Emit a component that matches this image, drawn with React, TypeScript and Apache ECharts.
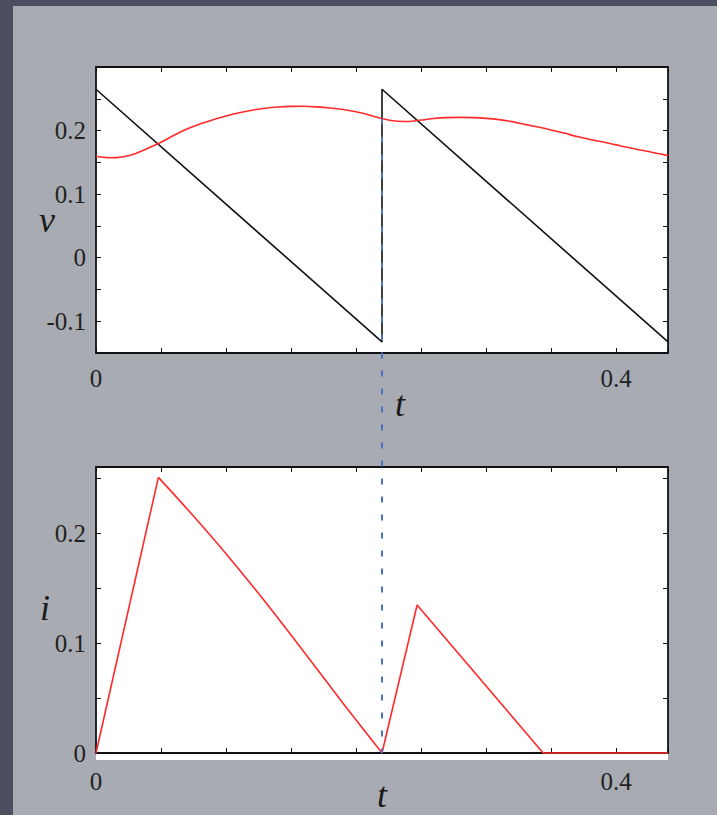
import React, { useEffect, useRef } from 'react';
import * as echarts from 'echarts';

// Top plot: v(t)
const vTime = [0, 0.01, 0.02, 0.03, 0.04, 0.05, 0.06, 0.07, 0.08, 0.09, 0.1, 0.11, 0.12, 0.13, 0.14, 0.15, 0.16, 0.17, 0.18, 0.19, 0.2, 0.21, 0.22, 0.23, 0.24, 0.25, 0.26, 0.27, 0.28, 0.29, 0.3, 0.31, 0.32, 0.33, 0.34, 0.35, 0.36, 0.37, 0.38, 0.39, 0.4, 0.41, 0.42, 0.43, 0.44];
const vRed = [0.1595, 0.1572, 0.1585, 0.1635, 0.172, 0.1815, 0.1925, 0.2025, 0.2105, 0.217, 0.223, 0.228, 0.232, 0.235, 0.237, 0.238, 0.2382, 0.2372, 0.2355, 0.233, 0.2295, 0.2245, 0.219, 0.215, 0.2143, 0.2165, 0.219, 0.2203, 0.2207, 0.2203, 0.2192, 0.2172, 0.214, 0.2097, 0.2055, 0.201, 0.196, 0.1905, 0.186, 0.182, 0.1775, 0.173, 0.169, 0.1648, 0.1606];
const sawTime = [0, 0.22, 0.22, 0.44];
const sawVolt = [0.265, -0.1325, 0.265, -0.1325];

// Bottom plot: i(t) — rise, gently curved decay, second pulse
const iRiseTime = [0, 0.048];
const iRise = [0, 0.2506];
const iDecayTime = [0.048, 0.07, 0.1, 0.13, 0.16, 0.19, 0.22];
const iDecay = [0.2506, 0.222, 0.1812, 0.1377, 0.0918, 0.0453, 0];
const iPulseTime = [0.22, 0.247, 0.344, 0.44];
const iPulse = [0, 0.1345, 0, 0];

// Tick labels
const xTickLabels = ['0', '0.4'];
const vTickLabels = ['-0.1', '0', '0.1', '0.2'];
const iTickLabels = ['0', '0.1', '0.2'];

// Dashed marker
const jumpTime = 0.22;
const jumpVolt = 0.219;

const SERIF = '"Liberation Serif", "Times New Roman", serif';
const RED = '#ff2a2a';

export default function App() {
  const ref = useRef<HTMLDivElement>(null);

  useEffect(() => {
    const chart = echarts.init(ref.current!, null, { renderer: 'svg' });

    const fmt = (list: string[]) => (val: number) => {
      let s = String(Math.round(val * 1000) / 1000);
      if (s === '-0') s = '0';
      return list.includes(s) ? s : '';
    };

    const axisLine = { show: true, onZero: false, lineStyle: { color: '#111', width: 1.8 } };
    const axisTick = { show: true, inside: true, length: 5, lineStyle: { color: '#111', width: 1 } };

    const xAx = (grid: number, pos: string, show: boolean, margin: number) => ({
      type: 'value', gridIndex: grid, position: pos, min: 0, max: 0.44, interval: 0.05,
      axisLine, axisTick, splitLine: { show: false },
      axisLabel: { show, margin, fontFamily: SERIF, fontSize: 25, color: '#222', formatter: fmt(xTickLabels) },
    });
    const yAx = (grid: number, pos: string, show: boolean, min: number, max: number, labels: string[]) => ({
      type: 'value', gridIndex: grid, position: pos, min, max, interval: 0.05,
      axisLine, axisTick, splitLine: { show: false },
      axisLabel: { show, margin: 10, fontFamily: SERIF, fontSize: 25, color: '#222', formatter: fmt(labels) },
    });

    const line = (xi: number, yi: number, xs: number[], ys: number[], color: string, smooth: number | boolean = false) => ({
      type: 'line', xAxisIndex: xi, yAxisIndex: yi, showSymbol: false, smooth, clip: false,
      data: xs.map((t, k) => [t, ys[k]]),
      lineStyle: { color, width: 1.6 },
    });

    chart.setOption({
      animation: false,
      backgroundColor: '#4b4f60',
      grid: [
        { left: 96, top: 67, width: 572, height: 286, show: true, backgroundColor: '#ffffff', borderWidth: 0 },
        { left: 96, top: 467, width: 572, height: 286, show: true, backgroundColor: '#ffffff', borderWidth: 0 },
      ],
      xAxis: [
        xAx(0, 'bottom', true, 13),
        xAx(0, 'top', false, 13),
        xAx(1, 'bottom', true, 16),
        xAx(1, 'top', false, 13),
      ],
      yAxis: [
        yAx(0, 'left', true, -0.15, 0.3, vTickLabels),
        yAx(0, 'right', false, -0.15, 0.3, vTickLabels),
        yAx(1, 'left', true, 0, 0.26, iTickLabels),
        yAx(1, 'right', false, 0, 0.26, iTickLabels),
      ],
      series: [
        line(0, 0, sawTime, sawVolt, '#111'),
        line(0, 0, vTime, vRed, RED, 0.3),
        line(2, 2, iRiseTime, iRise, RED),
        line(2, 2, iDecayTime, iDecay, RED, 0.3),
        line(2, 2, iPulseTime, iPulse, RED),
      ],
    });

    const x = chart.convertToPixel({ xAxisIndex: 0 }, jumpTime) as number;
    const y1 = chart.convertToPixel({ yAxisIndex: 0 }, jumpVolt) as number;
    const y2 = chart.convertToPixel({ yAxisIndex: 2 }, 0) as number;
    const gl = chart.convertToPixel({ xAxisIndex: 2 }, 0) as number;
    const gr = chart.convertToPixel({ xAxisIndex: 2 }, 0.44) as number;

    const title = (text: string, tx: number, ty: number) => ({
      type: 'text', x: tx, y: ty, z: 10,
      style: {
        text, fill: '#1a1a1a', fontFamily: SERIF, fontStyle: 'italic', fontSize: 36,
        align: 'center', verticalAlign: 'middle', textAlign: 'center', textVerticalAlign: 'middle',
      },
    });

    chart.setOption({
      graphic: [
        { type: 'rect', z: -100, shape: { x: 13, y: 6, width: 704, height: 809 }, style: { fill: '#a8abb2' } },
        { type: 'rect', z: -50, shape: { x: gl, y: y2, width: gr - gl, height: 7 }, style: { fill: '#ffffff' } },
        {
          type: 'line', z: 100,
          shape: { x1: x, y1, x2: x, y2 },
          style: { stroke: '#4f6fc4', lineWidth: 2, lineDash: [6, 12] },
        },
        title('v', 47, 220),
        title('t', 400, 404),
        title('i', 45, 608),
        title('t', 382, 795),
      ],
    });

    return () => chart.dispose();
  }, []);

  return <div ref={ref} style={{ position: 'fixed', left: 0, top: 0, width: 717, height: 815 }} />;
}
